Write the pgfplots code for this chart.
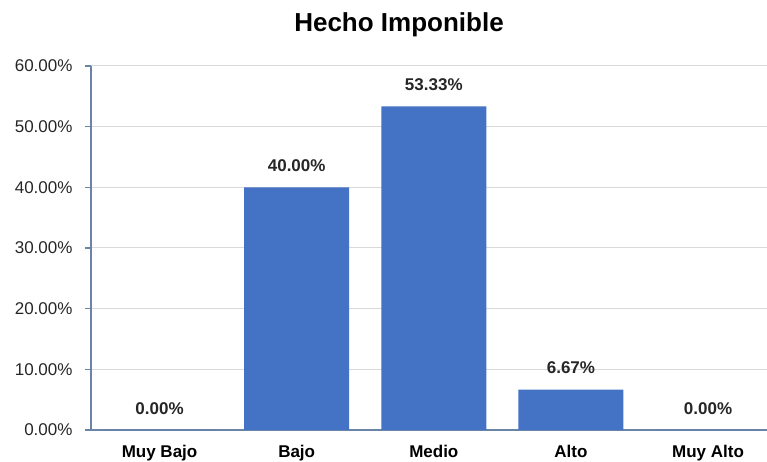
\documentclass[border=0pt]{standalone}
\usepackage{pgfplots}
\pgfplotsset{compat=1.18}
\usepackage{fontspec}
\setmainfont{Liberation Sans}
\definecolor{barblue}{HTML}{4472C4}
\definecolor{axisblue}{HTML}{6A84A8}
\definecolor{gridgray}{HTML}{D9D9D9}
\begin{document}
\begin{tikzpicture}
\begin{axis}[
    at={(0,0)}, anchor=south west,
    scale only axis,
    width=676pt, height=364pt,
    ybar,
    bar width=105pt,
    xmin=-0.5, xmax=4.43,
    ymin=0, ymax=60,
    ytick={0,10,20,30,40,50,60},
    yticklabel={\pgfmathprintnumber[fixed,fixed zerofill,precision=2]{\tick}\%},
    /pgf/number format/assume math mode=true,
    xtick={0,1,2,3,4},
    xticklabels={Muy Bajo, Bajo, Medio, Alto, Muy Alto},
    x tick label style={font=\fontsize{17}{20}\selectfont\bfseries, yshift=-6pt},
    y tick label style={font=\fontsize{17}{20}\selectfont, color=black!85, xshift=-9pt},
    axis y line*=left,
    axis x line*=bottom,
    y axis line style={axisblue, line width=1.5pt, -},
    x axis line style={axisblue, line width=1.5pt, -},
    ymajorgrids,
    grid style={gridgray, line width=1pt},
    major tick length=6pt,
    ytick style={axisblue, line width=1.2pt},
    xtick style={draw=none},
    tick align=outside,
    title={\fontsize{26}{30}\selectfont\bfseries Hecho Imponible},
    title style={yshift=20pt, xshift=-30pt},
    nodes near coords={\pgfmathprintnumber[fixed,fixed zerofill,precision=2]{\pgfplotspointmeta}\%},
    nodes near coords style={font=\fontsize{17}{20}\selectfont\bfseries, color=black!85, yshift=12pt, /pgf/number format/assume math mode=true},
    clip=false,
]
\addplot[fill=barblue, draw=none] coordinates
{(0,0) (1,40.00) (2,53.33) (3,6.67) (4,0)};
\end{axis}
\pgfresetboundingbox
\path (-91pt,-32pt) rectangle (676pt,430pt);
\end{tikzpicture}
\end{document}
